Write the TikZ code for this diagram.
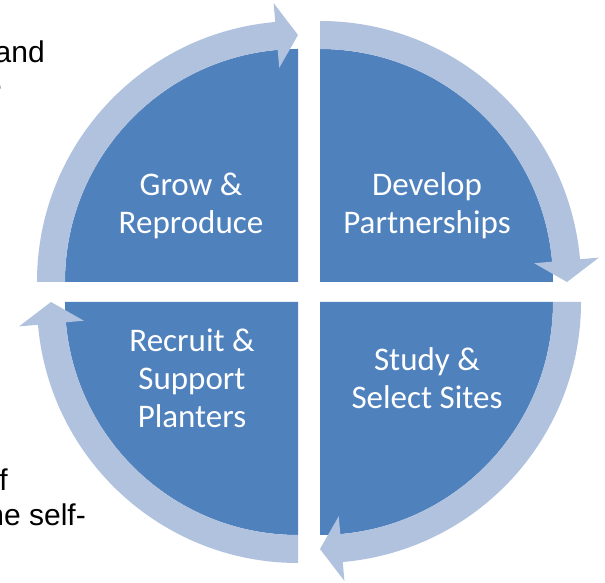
\documentclass[tikz,border=0pt]{standalone}
\usepackage{fontspec}
\setmainfont{Carlito}
\newfontfamily\notefont{Liberation Sans}
\usetikzlibrary{calc}
\definecolor{quadblue}{HTML}{4F81BD}
\definecolor{ringblue}{HTML}{B0C2DE}

\begin{document}
\begin{tikzpicture}[x=1pt,y=1pt,
  quad/.style={fill=quadblue},
  ring/.style={fill=ringblue},
  steplabel/.style={text=white,align=center,font=\fontsize{33}{38}\selectfont},
  note/.style={anchor=base east,inner sep=0pt,font=\notefont\fontsize{30}{35}\selectfont}]

\useasboundingbox (-309,-291) rectangle (296,292);
\clip (-309,-291) rectangle (296,292);

% text of the page, cut at the left edge
\node[note] (note1) at (-264,229) {and};
\node[note] (note2) at (-307,195) {e};
\node[note] (note3) at (-301,-198) {f};
\node[note] (note4) at (-223,-233) {ne self-};

\coordinate (tl) at (-11,10);
\coordinate (tr) at (11,10);
\coordinate (br) at (11,-10);
\coordinate (bl) at (-11,-10);

\fill[quad] (tl) -- ++(90:233) arc[start angle=90,end angle=180,radius=233] -- cycle;
\fill[quad] (tr) -- ++(0:233) arc[start angle=0,end angle=90,radius=233] -- cycle;
\fill[quad] (br) -- ++(270:233) arc[start angle=270,end angle=360,radius=233] -- cycle;
\fill[quad] (bl) -- ++(180:233) arc[start angle=180,end angle=270,radius=233] -- cycle;

\foreach \c/\a/\t in {tl/180/90,tr/90/0,br/360/270,bl/270/180}{
  \fill[ring] ($(\c)+(\a:261)$) arc[start angle=\a,end angle=\t+5,radius=261]
    -- ($(\c)+(\t+5:280)$) -- ($(\c)+(\t:247)$) -- ($(\c)+(\t+5:215)$)
    -- ($(\c)+(\t+5:233)$) arc[start angle=\t+5,end angle=\a,radius=233] -- cycle;
}

\node[steplabel] (grow) at (-118,86) {Grow \&\\Reproduce};
\node[steplabel] (develop) at (118,86) {Develop\\Partnerships};
\node[steplabel] (study) at (118,-86) {Study \&\\Select Sites};
\node[steplabel] (recruit) at (-117,-86) {Recruit \&\\Support\\Planters};

\end{tikzpicture}
\end{document}
